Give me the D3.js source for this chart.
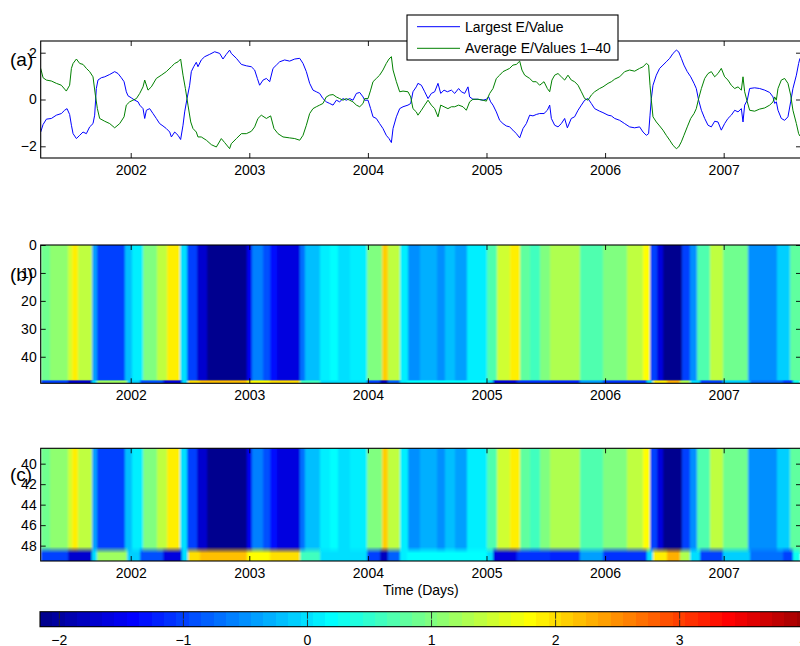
<!DOCTYPE html>
<html><head><meta charset="utf-8">
<script src="https://cdn.jsdelivr.net/npm/d3@7"></script>
<style>
body{margin:0;background:#fff}
svg{display:block;font-family:"Liberation Sans",Arial,Helvetica,sans-serif}
</style></head><body>
<svg id="chart" width="800" height="646"></svg>
<script>
// ---------------- data (time in decimal years) ----------------
const timeStart = 2001.241, timeEnd = 2007.652;
const yearTicks = [2002, 2003, 2004, 2005, 2006, 2007];
const lineTicks = [-2, 0, 2];
const rowTicksB = [0, 10, 20, 30, 40];
const rowTicksC = [40, 42, 44, 46, 48];
const colorTicks = [-2, -1, 0, 1, 2, 3, 4];
const colorLimits = [-2.156, 4.244];
const seriesNames = ["Largest E/Value", "Average E/Values 1\u201340"];
const panelLabels = ["(a)", "(b)", "(c)"];
const axisTitle = "Time (Days)";

const blueDates = [
2001.241,2001.261,2001.289,2001.331,2001.373,2001.415,2001.443,2001.463,2001.485,2001.500,
2001.514,2001.542,2001.570,2001.598,2001.626,2001.654,2001.682,2001.696,2001.710,2001.724,
2001.752,2001.781,2001.823,2001.865,2001.893,2001.921,2001.944,2001.963,2001.977,2002.005,
2002.034,2002.062,2002.076,2002.104,2002.118,2002.132,2002.160,2002.188,2002.216,2002.244,
2002.272,2002.300,2002.329,2002.343,2002.371,2002.399,2002.421,2002.441,2002.455,2002.475,
2002.497,2002.511,2002.531,2002.553,2002.567,2002.595,2002.624,2002.666,2002.708,2002.750,
2002.778,2002.806,2002.834,
2002.848,2002.891,2002.933,2002.975,2003.017,2003.045,2003.068,2003.087,2003.116,2003.144,
2003.172,2003.200,2003.228,2003.256,2003.298,2003.340,2003.383,2003.425,2003.453,2003.481,
2003.509,2003.537,2003.565,2003.593,2003.621,2003.649,2003.678,2003.706,2003.734,2003.762,
2003.790,2003.818,2003.846,2003.874,2003.903,2003.931,2003.959,2003.973,2004.001,2004.023,
2004.043,2004.071,2004.099,2004.127,2004.155,2004.178,2004.198,2004.212,2004.240,2004.268,
2004.296,2004.338,2004.361,2004.380,2004.408,
2004.422,2004.451,2004.479,2004.507,2004.535,2004.563,2004.591,2004.614,2004.642,2004.670,
2004.704,2004.732,2004.765,2004.788,2004.816,2004.844,2004.858,2004.886,2004.928,2004.971,
2004.999,2005.018,2005.035,2005.055,2005.083,2005.111,2005.139,2005.167,2005.195,2005.223,
2005.252,2005.280,2005.308,2005.336,2005.364,2005.392,2005.420,2005.448,2005.485,2005.513,
2005.533,2005.547,2005.575,2005.603,2005.631,2005.659,2005.682,2005.715,2005.743,2005.772,
2005.800,2005.828,2005.856,2005.884,2005.912,2005.954,2005.982,
2006.025,2006.053,2006.081,2006.123,2006.165,2006.207,2006.249,2006.291,2006.320,2006.348,
2006.367,2006.379,2006.390,2006.404,2006.432,2006.460,2006.488,2006.516,2006.545,2006.573,
2006.601,2006.620,2006.643,2006.665,2006.693,2006.722,2006.750,2006.769,2006.789,2006.812,
2006.840,2006.868,2006.896,2006.924,2006.952,2006.980,2007.008,2007.036,2007.064,2007.093,
2007.121,2007.149,2007.163,2007.177,2007.199,2007.219,2007.261,2007.303,2007.346,2007.388,
2007.416,2007.430,2007.444,2007.458,2007.486,2007.514,2007.542,2007.565,2007.584,2007.613,
2007.632,2007.643];
const blueValues = [
-1.39,-1.07,-0.84,-0.81,-0.67,-0.60,-0.46,-0.39,-0.64,-1.10,
-1.46,-1.67,-1.53,-1.39,-1.46,-1.17,-1.03,-0.67,0.47,0.83,
0.93,0.97,1.07,1.19,1.11,0.93,0.76,0.33,0.16,0.07,
-0.03,-0.10,-0.24,-0.39,-0.81,-0.46,-0.39,-0.60,-0.81,-1.03,
-1.13,-1.24,-1.39,-1.60,-1.39,-1.53,-1.71,-1.10,-0.53,0.04,
0.61,1.19,1.40,1.59,1.40,1.69,1.83,1.93,2.04,1.97,
1.73,1.93,2.11,
1.97,1.76,1.50,1.44,1.40,1.26,0.90,0.61,0.83,0.90,
0.76,1.33,1.47,1.61,1.69,1.64,1.73,1.76,1.54,1.19,
0.69,0.40,0.33,0.26,0.04,-0.10,-0.17,-0.24,-0.03,-0.10,
0.04,-0.03,0.04,-0.03,0.26,0.30,0.11,-0.03,-0.03,-0.39,
-0.74,-0.81,-1.03,-1.24,-1.53,-1.67,-1.84,-1.24,-0.74,-0.39,
-0.31,-0.24,-0.17,0.33,0.54,
0.69,0.61,0.33,0.04,0.26,0.33,0.69,0.26,0.40,0.33,
0.40,0.26,0.47,0.33,0.26,0.54,0.11,0.01,0.01,-0.03,
0.01,0.11,-0.10,-0.24,-0.53,-0.89,-1.03,-1.13,-1.17,-1.31,
-1.46,-1.64,-1.24,-1.03,-0.67,-0.70,-0.64,-0.60,-0.60,-0.46,
-0.24,-0.81,-1.10,-1.17,-1.03,-0.81,-1.21,-0.81,-0.74,-0.46,
-0.24,-0.03,0.04,-0.17,-0.39,-0.50,-0.56,
-0.67,-0.70,-0.81,-0.89,-1.03,-1.17,-1.21,-1.17,-1.39,-1.53,
-1.46,-0.67,0.04,0.61,1.04,1.33,1.47,1.61,1.76,1.97,
2.11,2.04,1.76,1.47,1.19,0.97,0.69,0.47,-0.03,-0.46,
-0.81,-1.10,-1.17,-0.93,-0.96,-1.31,-1.03,-0.81,-0.67,-0.46,
-0.53,-0.39,-0.96,-0.24,-0.03,0.47,0.50,0.47,0.40,0.30,
0.11,-0.17,-0.10,-0.46,-0.81,-0.89,-0.74,-0.10,0.47,1.04,
1.54,1.76];

const greenDates = [
2001.241,2001.261,2001.289,2001.331,2001.373,2001.415,2001.457,2001.485,2001.500,2001.514,
2001.542,2001.570,2001.598,2001.626,2001.654,2001.682,2001.702,2001.719,2001.738,2001.781,
2001.823,2001.865,2001.907,2001.944,2001.963,2001.991,2002.019,2002.048,2002.076,2002.104,
2002.118,2002.146,2002.174,2002.216,2002.258,2002.300,2002.343,2002.371,2002.399,2002.421,
2002.441,2002.461,2002.483,2002.506,2002.525,2002.553,2002.567,2002.595,2002.638,2002.680,
2002.722,2002.764,2002.792,2002.834,
2002.848,2002.891,2002.933,2002.975,2003.017,2003.045,2003.073,2003.101,2003.144,2003.180,
2003.208,2003.242,2003.284,2003.340,2003.383,2003.425,2003.453,2003.481,2003.509,2003.537,
2003.565,2003.593,2003.621,2003.649,2003.678,2003.706,2003.734,2003.762,2003.790,2003.818,
2003.846,2003.874,2003.903,2003.931,2003.959,2003.973,2004.001,2004.023,2004.043,2004.071,
2004.099,2004.127,2004.155,2004.178,2004.198,2004.212,2004.240,2004.268,2004.296,2004.338,
2004.361,2004.380,2004.408,
2004.422,2004.451,2004.479,2004.507,2004.535,2004.563,2004.591,2004.614,2004.642,2004.675,
2004.704,2004.732,2004.765,2004.802,2004.830,2004.858,2004.886,2004.928,2004.971,2004.999,
2005.027,2005.055,2005.083,2005.111,2005.139,2005.167,2005.195,2005.223,2005.252,2005.280,
2005.299,2005.322,2005.364,2005.392,2005.420,2005.448,2005.485,2005.513,2005.533,2005.552,
2005.575,2005.603,2005.631,2005.659,2005.687,2005.715,2005.743,2005.772,2005.800,2005.828,
2005.856,2005.884,2005.912,2005.954,2005.982,
2006.025,2006.053,2006.081,2006.123,2006.165,2006.207,2006.249,2006.291,2006.320,2006.348,
2006.367,2006.379,2006.390,2006.404,2006.432,2006.460,2006.488,2006.516,2006.545,2006.573,
2006.601,2006.620,2006.643,2006.665,2006.693,2006.722,2006.750,2006.769,2006.789,2006.812,
2006.840,2006.868,2006.896,2006.924,2006.952,2006.980,2007.008,2007.036,2007.064,2007.093,
2007.121,2007.149,2007.163,2007.177,2007.199,2007.219,2007.261,2007.303,2007.346,2007.388,
2007.416,2007.430,2007.444,2007.458,2007.486,2007.514,2007.542,2007.565,2007.584,2007.613,
2007.632,2007.643];
const greenValues = [
1.33,0.93,0.83,0.79,0.69,0.61,0.36,0.61,1.33,1.54,
1.73,1.54,1.50,1.33,1.19,0.97,0.19,-0.39,-0.81,-0.93,
-1.03,-1.21,-1.03,-0.74,-0.24,-0.10,-0.03,0.04,0.26,0.54,
0.83,0.40,0.54,0.90,1.04,1.19,1.40,1.54,1.61,1.73,
1.04,0.47,-0.24,-0.96,-1.24,-1.39,-1.60,-1.60,-1.74,-1.93,
-2.03,-1.67,-1.84,-2.10,
-1.89,-1.67,-1.46,-1.46,-1.36,-1.17,-0.81,-0.67,-0.81,-0.70,
-1.24,-1.46,-1.60,-1.64,-1.67,-1.74,-1.53,-1.10,-0.60,-0.39,
-0.31,-0.24,-0.17,0.11,0.19,0.21,0.11,0.04,-0.03,0.04,
-0.03,-0.10,-0.24,-0.31,-0.17,0.04,0.04,0.40,0.76,0.90,
1.04,1.26,1.54,1.73,1.83,1.26,0.76,0.33,0.36,0.33,
0.11,-0.39,-0.53,
-0.67,-0.46,-0.24,-0.03,-0.24,-0.39,-0.74,-0.24,-0.31,-0.39,
-0.31,-0.31,-0.24,-0.31,-0.46,-0.10,0.01,0.01,-0.03,-0.07,
0.26,0.47,0.90,1.04,1.19,1.26,1.33,1.47,1.50,1.64,
1.26,1.04,0.90,0.76,0.76,0.61,0.76,0.47,0.33,0.83,
1.04,1.11,0.97,0.83,1.04,0.83,0.76,0.61,0.33,0.04,
-0.03,0.19,0.33,0.47,0.54,
0.69,0.76,0.87,0.97,1.19,1.26,1.21,1.33,1.40,1.54,
1.47,0.61,-0.03,-0.74,-0.96,-1.13,-1.31,-1.53,-1.74,-1.96,
-2.10,-2.03,-1.81,-1.53,-1.17,-0.81,-0.60,-0.39,0.04,0.47,
0.90,1.11,1.19,0.97,1.11,1.33,0.97,0.83,0.61,0.47,
0.54,0.40,0.97,0.33,-0.10,-0.46,-0.50,-0.41,-0.36,-0.24,
-0.10,0.11,-0.03,0.47,0.83,0.90,0.69,0.19,-0.46,-1.03,
-1.46,-1.56];

// heat map: rows 1..48 share one value per time band; row 49 has its own
const stripeStarts = [
2001.241,2001.320,2001.474,2001.503,2001.558,2001.671,2001.713,2001.952,2002.008,2002.106,
2002.219,2002.304,2002.416,2002.472,2002.556,2002.641,2002.978,2003.020,2003.118,2003.175,
2003.231,2003.427,2003.470,2003.596,2003.680,2003.748,2003.849,2003.990,2004.116,2004.172,
2004.271,2004.341,2004.439,2004.580,2004.650,2004.734,2004.833,2005.002,2005.086,2005.198,
2005.282,2005.367,2005.451,2005.535,2005.788,2005.985,2006.182,2006.322,2006.379,2006.435,
2006.491,2006.646,2006.716,2006.772,2006.885,2006.997,2007.207,2007.447,2007.559];
const stripeValues = [
0.9,1.1,1.5,1.9,1.4,-0.4,-1.0,-0.2,0.1,1.0,
1.4,1.9,0.0,-1.0,-1.7,-2.1,-1.5,-0.6,-0.9,-1.3,
-1.6,-0.7,-0.2,0.05,0.15,0.0,0.1,1.0,2.1,1.4,
0.1,-0.5,-0.3,-0.5,-0.2,-0.45,0.1,0.7,1.5,1.9,
0.8,0.6,1.0,1.3,0.7,1.0,1.4,1.8,-1.0,-1.6,
-2.1,-1.0,-0.5,0.7,1.4,0.9,-0.5,-0.1,0.8];
const bottomStarts = [
2001.241,2001.474,2001.671,2001.713,2001.966,2002.078,2002.275,2002.430,2002.486,2002.584,
2002.978,2003.175,2003.427,2003.596,2003.990,2004.102,2004.172,2004.271,2004.327,2005.002,
2005.057,2005.255,2005.535,2005.788,2005.985,2006.351,2006.406,2006.519,2006.632,2006.716,
2006.800,2006.997,2007.222,2007.503,2007.587];
const bottomValues = [
-1.0,-1.7,0.0,1.2,-0.1,-0.9,-1.6,0.0,2.0,2.2,
1.8,2.0,0.6,0.0,-1.0,-1.8,-0.8,0.1,0.2,0.0,
-1.6,-1.1,-1.2,-0.4,-1.1,0.0,1.9,2.3,1.3,0.0,
-1.0,-0.1,-0.7,-1.0,0.3];

// ---------------- colour map (MATLAB-style jet, 64 levels) ----------------
function jetColors(m) {
  const n = Math.ceil(m / 4), u = [];
  for (let i = 1; i <= n; i++) u.push(i / n);
  for (let i = 0; i < n - 1; i++) u.push(1);
  for (let i = n; i >= 1; i--) u.push(i / n);
  const g0 = Math.ceil(n / 2) - (m % 4 === 1 ? 1 : 0);
  const J = Array.from({length: m}, () => [0, 0, 0]);
  u.forEach((v, k) => {
    const gi = g0 + k + 1, ri = gi + n, bi = gi - n;
    if (ri >= 1 && ri <= m) J[ri - 1][0] = v;
    if (gi >= 1 && gi <= m) J[gi - 1][1] = v;
    if (bi >= 1 && bi <= m) J[bi - 1][2] = v;
  });
  return J.map(c => d3.rgb(c[0] * 255, c[1] * 255, c[2] * 255).formatHex());
}
const jet = jetColors(64);
const color = d3.scaleQuantize().domain(colorLimits).range(jet);

// ---------------- layout ----------------
const svg = d3.select("#chart");
const L = 40.7, R = 801;
const x = d3.scaleLinear().domain([timeStart, timeEnd]).range([L, R]);
const yA = d3.scaleLinear().domain([-2.5, 2.5]).range([158, 41]);
const yB = d3.scaleLinear().domain([0, 49.5]).range([245, 383.3]);
const yC = d3.scaleLinear().domain([38.5, 49.5]).range([448.3, 561]);
const defs = svg.append("defs");
const blur = defs.append("filter").attr("id", "hblur")
  .attr("x", "-2%").attr("y", "0%").attr("width", "104%").attr("height", "100%");
blur.append("feGaussianBlur").attr("stdDeviation", "1.3 0").attr("edgeMode", "duplicate");

function styleAxis(g) {
  g.attr("font-size", 14).attr("font-family", null);
  g.select(".domain").remove();
  g.selectAll("text").attr("fill", "#000");
  g.selectAll("line").attr("stroke", "#000").attr("stroke-width", 0.9);
}
function frame(y, yTicks, top, bottom) {
  const g = svg.append("g");
  g.append("g").attr("transform", `translate(0,${bottom})`)
    .call(d3.axisBottom(x).tickValues(yearTicks).tickFormat(d3.format("d"))
      .tickSizeInner(-5).tickSizeOuter(0).tickPadding(7)).call(styleAxis);
  g.append("g").attr("transform", `translate(0,${top})`)
    .call(d3.axisTop(x).tickValues(yearTicks).tickFormat("")
      .tickSizeInner(-5).tickSizeOuter(0)).call(styleAxis);
  g.append("g").attr("transform", `translate(${L},0)`)
    .call(d3.axisLeft(y).tickValues(yTicks).tickFormat(d3.format("d"))
      .tickSizeInner(-5).tickSizeOuter(0).tickPadding(4)).call(styleAxis);
  g.append("g").attr("transform", `translate(${R},0)`)
    .call(d3.axisRight(y).tickValues(yTicks).tickFormat("")
      .tickSizeInner(-5).tickSizeOuter(0)).call(styleAxis);
  g.append("rect").attr("x", L).attr("y", top).attr("width", R - L).attr("height", bottom - top)
    .attr("fill", "none").attr("stroke", "#000").attr("stroke-width", 1.1);
}

// ---------------- panel (a): lines ----------------
defs.append("clipPath").attr("id", "clipA").append("rect")
  .attr("x", L).attr("y", 41).attr("width", R - L).attr("height", 117);
const lineGen = d3.line().x(d => x(d[0])).y(d => yA(d[1]));
const gA = svg.append("g").attr("clip-path", "url(#clipA)");
gA.append("path").datum(d3.zip(blueDates, blueValues)).attr("d", lineGen)
  .attr("fill", "none").attr("stroke", "#0000ff").attr("stroke-width", 1);
gA.append("path").datum(d3.zip(greenDates, greenValues)).attr("d", lineGen)
  .attr("fill", "none").attr("stroke", "#008000").attr("stroke-width", 1);
frame(yA, lineTicks, 41, 158);

// ---------------- panels (b) and (c): heat maps ----------------
function heat(y, id) {
  const [r0, r1] = y.domain();
  defs.append("clipPath").attr("id", "clip" + id).append("rect")
    .attr("x", L).attr("y", y(r0)).attr("width", R - L).attr("height", y(r1) - y(r0));
  const outer = svg.append("g").attr("clip-path", `url(#clip${id})`);
  const g = outer.append("g").attr("filter", "url(#hblur)");
  const stripes = stripeStarts.map((s, i) => ({s, e: stripeStarts[i + 1] ?? timeEnd, v: stripeValues[i]}));
  const bottoms = bottomStarts.map((s, i) => ({s, e: bottomStarts[i + 1] ?? timeEnd, v: bottomValues[i]}));
  g.selectAll("rect.s").data(stripes).join("rect").attr("class", "s")
    .attr("x", d => x(d.s)).attr("width", d => x(d.e) - x(d.s) + 0.6)
    .attr("y", y(r0)).attr("height", y(48.8) - y(r0))
    .attr("fill", d => color(d.v)).attr("shape-rendering", "crispEdges");
  // soft transition into last row
  const grad = defs.append("linearGradient").attr("id", "g" + id)
    .attr("gradientUnits", "userSpaceOnUse").attr("x1", 0).attr("x2", 0)
    .attr("y1", y(48.1)).attr("y2", y(48.75));
  grad.append("stop").attr("offset", 0).attr("stop-color", "#000");
  grad.append("stop").attr("offset", 1).attr("stop-color", "#fff");
  defs.append("mask").attr("id", "m" + id).attr("maskUnits", "userSpaceOnUse")
    .attr("x", 0).attr("y", 0).attr("width", 800).attr("height", 646)
    .append("rect").attr("x", 0).attr("y", y(48.1)).attr("width", 800)
    .attr("height", y(49.5) - y(48.1)).attr("fill", `url(#g${id})`);
  g.append("g").attr("mask", `url(#m${id})`)
    .selectAll("rect").data(bottoms).join("rect")
    .attr("x", d => x(d.s)).attr("width", d => x(d.e) - x(d.s) + 0.6)
    .attr("y", y(48.1)).attr("height", y(49.5) - y(48.1))
    .attr("fill", d => color(d.v)).attr("shape-rendering", "crispEdges");
}
heat(yB, "B");
frame(yB, rowTicksB, 245, 383.3);
heat(yC, "C");
frame(yC, rowTicksC, 448.3, 561);

// ---------------- panel labels & axis title ----------------
const labelY = [66, 281, 481];
panelLabels.forEach((t, i) => svg.append("text").attr("x", 10).attr("y", labelY[i])
  .attr("font-size", 19).attr("fill", "#000").text(t));
svg.append("text").attr("x", (L + R) / 2).attr("y", 595).attr("text-anchor", "middle")
  .attr("font-size", 14).attr("fill", "#000").text(axisTitle);

// ---------------- legend ----------------
const lg = svg.append("g");
lg.append("rect").attr("x", 407).attr("y", 15).attr("width", 211).attr("height", 45)
  .attr("fill", "#fff").attr("stroke", "#000").attr("stroke-width", 1.1);
const lcol = ["#0000ff", "#008000"];
seriesNames.forEach((n, i) => {
  const yy = 26.7 + i * 21.6;
  lg.append("line").attr("x1", 417).attr("x2", 460).attr("y1", yy).attr("y2", yy)
    .attr("stroke", lcol[i]).attr("stroke-width", 1);
  lg.append("text").attr("x", 465).attr("y", yy + 5).attr("font-size", 14)
    .attr("fill", "#000").text(n);
});

// ---------------- colour bar ----------------
const cx = d3.scaleLinear().domain(colorLimits).range([40, 834]);
const cTop = 611.7, cBot = 626.7;
const step = (colorLimits[1] - colorLimits[0]) / jet.length;
const levels = d3.range(jet.length).map(k => colorLimits[0] + k * step);
svg.append("g").selectAll("rect").data(levels).join("rect")
  .attr("x", d => cx(d)).attr("width", cx(colorLimits[0] + step) - cx(colorLimits[0]) + 0.4)
  .attr("y", cTop).attr("height", cBot - cTop)
  .attr("fill", d => color(d + step / 2)).attr("shape-rendering", "crispEdges");
const cb = svg.append("g");
colorTicks.forEach(t => {
  cb.append("line").attr("x1", cx(t)).attr("x2", cx(t)).attr("y1", cTop).attr("y2", cTop + 7)
    .attr("stroke", "#222").attr("stroke-width", 0.9);
  cb.append("line").attr("x1", cx(t)).attr("x2", cx(t)).attr("y1", cBot - 7).attr("y2", cBot)
    .attr("stroke", "#222").attr("stroke-width", 0.9);
  cb.append("text").attr("x", cx(t)).attr("y", 645).attr("text-anchor", "middle")
    .attr("font-size", 14).attr("fill", "#000").text(d3.format("d")(t));
});
cb.append("rect").attr("x", 40).attr("y", cTop).attr("width", 794).attr("height", cBot - cTop)
  .attr("fill", "none").attr("stroke", "#000").attr("stroke-width", 1.1);
</script>
</body></html>
